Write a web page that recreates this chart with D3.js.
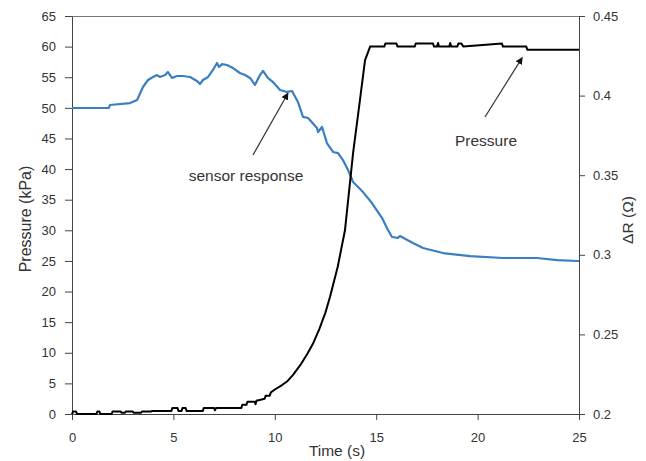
<!DOCTYPE html>
<html lang="en">
  <head>
    <meta charset="utf-8">
    <title>Pressure and sensor response</title>
    <script type="text/javascript" src="https://cdn.jsdelivr.net/npm/d3@7"></script>
    <style>
      body { margin: 0; background: #fff; }
      text { font-family: "Liberation Sans", Arial, sans-serif; fill: #333; }
      .axis path, .axis line { stroke: #444; }
      .axis text { font-size: 13px; fill: #333; }
    </style>
  </head>
  <body>
    <script type="text/javascript">
    // pressure (black, left axis)
    var pressureTime = [0, 0.05, 0.15, 0.2, 0.25, 1.2, 1.25, 1.35, 1.4, 1.95, 2.0, 2.4, 2.45, 2.6, 2.65, 3.0, 3.05,
      3.4, 3.45, 3.9, 3.95, 4.2, 4.9, 4.95, 5.2, 5.25, 5.4, 5.45, 5.6, 5.65, 5.9, 5.95, 6.45, 6.5, 7.0, 7.05, 7.1,
      8.35, 8.4, 8.6, 8.65, 9.0, 9.05, 9.1, 9.15, 9.5, 9.55, 9.75, 9.8, 10.0, 10.3, 10.6, 10.9, 11.3, 11.6, 11.9,
      12.2, 12.5, 12.72, 13.1, 13.46, 13.86, 14.2, 14.45, 14.7, 15.4, 15.45, 16.0, 16.05, 16.9, 16.95, 17.8, 17.85,
      18.0, 18.05, 18.1, 18.6, 18.65, 18.7, 19.0, 19.05, 19.2, 19.3, 21.2, 21.25, 22.4, 22.45, 25];
    var pressureKPa = [0, 0.4, 0.4, 0.4, 0, 0, 0.4, 0.4, 0, 0, 0.4, 0.4, 0.2, 0.2, 0.4, 0.4, 0.2,
      0.2, 0.4, 0.4, 0.5, 0.5, 0.5, 1.0, 1.0, 0.5, 0.5, 1.0, 1.0, 0.5, 0.5, 0.5, 0.5, 1.0, 1.0, 0.6, 1.0,
      1.0, 1.5, 1.5, 2.0, 2.0, 1.6, 2.2, 2.2, 2.5, 3.0, 3.0, 3.5, 4.0, 4.6, 5.3, 6.4, 8.2, 9.8, 11.6,
      13.9, 16.6, 19.1, 24, 30, 42.6, 51.3, 57.8, 60, 60, 60.5, 60.5, 60, 60, 60.5, 60.5, 60,
      60, 60.6, 60, 60, 60.6, 60, 60, 60.5, 60.5, 60, 60.5, 60, 60, 59.5, 59.5];

    // sensor response (blue, right axis)
    var responseTime = [0, 1.82, 1.87, 2.86, 3.21, 3.5, 3.75, 3.99, 4.19, 4.34, 4.59, 4.73, 4.93, 5.18, 5.47,
      5.82, 6.16, 6.31, 6.46, 6.71, 6.95, 7.15, 7.25, 7.4, 7.64, 7.94, 8.28, 8.53, 8.78, 9.02, 9.27, 9.42,
      9.66, 9.91, 10.26, 10.6, 10.85, 11.14, 11.39, 11.64, 12.08, 12.13, 12.33, 12.57, 12.87, 13.12, 13.36,
      13.61, 13.86, 14.35, 14.79, 15.29, 15.58, 15.78, 16.07, 16.17, 16.81, 17.31, 18.29, 19.63, 21.25,
      22.93, 23.92, 24.95, 25];
    var responseOhm = [0.3922, 0.3922, 0.3941, 0.3953, 0.3972, 0.4054, 0.4098, 0.4117, 0.4129, 0.4117, 0.4129,
      0.4148, 0.4111, 0.4123, 0.4123, 0.4117, 0.4092, 0.4073, 0.4098, 0.4117, 0.4161, 0.4205, 0.4180, 0.4198,
      0.4192, 0.4173, 0.4142, 0.4129, 0.4111, 0.4067, 0.4129, 0.4155, 0.4111, 0.4085, 0.4035, 0.4023, 0.4029,
      0.3960, 0.3866, 0.3859, 0.3796, 0.3771, 0.3803, 0.3702, 0.3646, 0.3639, 0.3595, 0.3533, 0.3457, 0.3394,
      0.3325, 0.3231, 0.3156, 0.3112, 0.3106, 0.3118, 0.3074, 0.3043, 0.3011, 0.2992, 0.2980, 0.2980, 0.2967,
      0.2961, 0.2961];

    var xTicks = [0, 5, 10, 15, 20, 25];
    var leftTicks = d3.range(0, 66, 5);
    var rightTicks = [0.2, 0.25, 0.3, 0.35, 0.4, 0.45];

    var w = 646;
    var h = 461;
    // plot box edges ("top" is taken by window.top)
    var boxL = 72, boxR = 579, boxT = 16, boxB = 414;

    var svg = d3.select("body")
                .append("svg")
                .attr("width", w)
                .attr("height", h);

    var xScale = d3.scaleLinear().domain([0, 25]).range([boxL, boxR]);
    var yLeft = d3.scaleLinear().domain([0, 65]).range([boxB, boxT]);
    var yRight = d3.scaleLinear().domain([0.2, 0.45]).range([boxB, boxT]);

    // top border of the plot box
    svg.append("line")
       .attr("x1", boxL).attr("x2", boxR)
       .attr("y1", boxT + 0.5).attr("y2", boxT + 0.5)
       .attr("stroke", "#777");

    svg.append("g")
       .attr("class", "axis")
       .attr("transform", "translate(0," + boxB + ")")
       .call(d3.axisBottom(xScale).tickValues(xTicks).tickSize(6).tickSizeOuter(0).tickPadding(13));

    svg.append("g")
       .attr("class", "axis")
       .attr("transform", "translate(" + boxL + ",0)")
       .call(d3.axisLeft(yLeft).tickValues(leftTicks).tickSize(7).tickSizeOuter(0).tickPadding(9));

    svg.append("g")
       .attr("class", "axis")
       .attr("transform", "translate(" + boxR + ",0)")
       .call(d3.axisRight(yRight).tickValues(rightTicks).tickSize(6).tickSizeOuter(0).tickPadding(8)
               .tickFormat(function(d) { return String(+d.toFixed(2)); }));

    var pressureLine = d3.line()
      .x(function(d, i) { return xScale(pressureTime[i]); })
      .y(function(d) { return yLeft(d); });

    var responseLine = d3.line()
      .x(function(d, i) { return xScale(responseTime[i]); })
      .y(function(d) { return yRight(d); });

    svg.append("path")
       .datum(responseOhm)
       .attr("d", responseLine)
       .attr("fill", "none")
       .attr("stroke", "#3a7fc2")
       .attr("stroke-width", 2.2)
       .attr("stroke-linejoin", "round");

    svg.append("path")
       .datum(pressureKPa)
       .attr("d", pressureLine)
       .attr("fill", "none")
       .attr("stroke", "#000")
       .attr("stroke-width", 2)
       .attr("stroke-linejoin", "round");

    // axis titles
    svg.append("text")
       .attr("x", 337).attr("y", 456)
       .attr("text-anchor", "middle")
       .style("font-size", "15.5px")
       .text("Time (s)");

    svg.append("text")
       .attr("transform", "translate(31,219) rotate(-90)")
       .attr("text-anchor", "middle")
       .style("font-size", "16px")
       .text("Pressure (kPa)");

    svg.append("text")
       .attr("transform", "translate(633,220) rotate(-90)")
       .attr("text-anchor", "middle")
       .style("font-size", "15.5px")
       .text("\u0394R (\u03a9)");

    // arrow annotations
    svg.append("defs").append("marker")
       .attr("id", "head")
       .attr("viewBox", "0 0 10 10")
       .attr("refX", 9).attr("refY", 5)
       .attr("markerWidth", 6).attr("markerHeight", 6)
       .attr("orient", "auto")
       .append("path")
       .attr("d", "M0,0 L10,5 L0,10 z")
       .attr("fill", "#111");

    svg.append("line")
       .attr("x1", 253).attr("y1", 155)
       .attr("x2", xScale(10.65)).attr("y2", yRight(0.4015))
       .attr("stroke", "#333").attr("stroke-width", 1.2)
       .attr("marker-end", "url(#head)");

    svg.append("line")
       .attr("x1", 485).attr("y1", 117)
       .attr("x2", xScale(22.2)).attr("y2", yLeft(58.2))
       .attr("stroke", "#333").attr("stroke-width", 1.2)
       .attr("marker-end", "url(#head)");

    svg.append("text")
       .attr("x", 246).attr("y", 181)
       .attr("text-anchor", "middle")
       .style("font-size", "15.5px")
       .text("sensor response");

    svg.append("text")
       .attr("x", 486).attr("y", 146)
       .attr("text-anchor", "middle")
       .style("font-size", "15.5px")
       .text("Pressure");
    </script>
  </body>
</html>
